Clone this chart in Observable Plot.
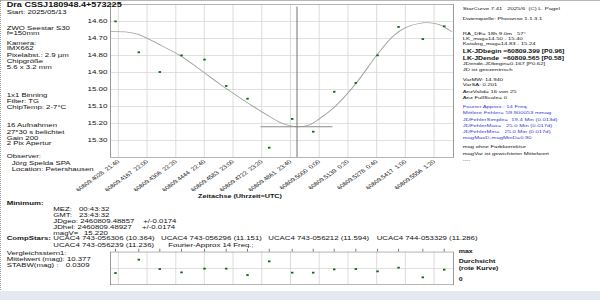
<!DOCTYPE html>
<html><head><meta charset="utf-8">
<script src="https://cdn.jsdelivr.net/npm/d3@7"></script>
<script src="https://cdn.jsdelivr.net/npm/@observablehq/plot@0.6"></script>
<style>
html,body{margin:0;padding:0;background:#fff;width:600px;height:300px;overflow:hidden}
#page{position:absolute;left:0;top:0;width:600px;height:417px;transform:scale(1,0.72);transform-origin:0 0;font-family:"Liberation Sans",Arial,sans-serif;}
.t{position:absolute;white-space:pre;color:#111}
.plot{position:absolute;left:0}
#topline{position:absolute;left:0;top:0;width:600px;height:1px;background:#b8b8b8}
#leftline{position:absolute;left:0;top:0;width:0;height:300px;border-left:1.5px dotted #999}
#taskbar{position:absolute;left:0;top:291px;width:600px;height:9px;background:#e3e9ef}
</style></head><body>
<div id="page"></div>
<div id="topline"></div><div id="leftline"></div><div id="taskbar"></div>
<script>
// ---- data ----
const obsJD  = [60809.40142, 60809.41270, 60809.42286, 60809.43337, 60809.44450, 60809.45500, 60809.46531, 60809.47582,
                60809.48695, 60809.49711, 60809.50728, 60809.51773, 60809.52824, 60809.53840, 60809.55016, 60809.56052];
const obsMag = [14.600, 14.782, 14.898, 14.800, 14.825, 14.980, 15.055, 15.343,
                15.174, 15.249, 15.014, 14.962, 14.800, 14.633, 14.704, 14.629];
const transp = [0.356, 0.767, 0.479, 0.377, 0.491, 0.491, 0.294, 0.715,
                0.368, 0.368, 0.469, 0.479, 0.408, 0.521, 0.224, 0.460];
const fitJD  = [60809.3990, 60809.4063, 60809.4120, 60809.4168, 60809.4240, 60809.4325, 60809.4420, 60809.4520,
                60809.4580, 60809.4680, 60809.4760, 60809.4830, 60809.4890, 60809.4950, 60809.5002, 60809.5073,
                60809.5140, 60809.5200, 60809.5278, 60809.5360, 60809.5418, 60809.5500, 60809.5563, 60809.5602, 60809.5640];
const fitMag = [14.660, 14.662, 14.675, 14.700, 14.745, 14.800, 14.880, 14.970,
                15.020, 15.100, 15.160, 15.205, 15.220, 15.210, 15.172, 15.105,
                15.020, 14.930, 14.800, 14.685, 14.637, 14.609, 14.614, 14.631, 14.660];
const tickJD = [60809.4028, 60809.4167, 60809.4306, 60809.4444, 60809.4583, 60809.4722,
                60809.4861, 60809.5000, 60809.5139, 60809.5278, 60809.5417, 60809.5556];
const tickLabels = ["60809.4028  21:40", "60809.4167  22:00", "60809.4306  22:20", "60809.4444  22:40",
                    "60809.4583  23:00", "60809.4722  23:20", "60809.4861  23:40", "60809.5000  0:00",
                    "60809.5139  0:20", "60809.5278  0:40", "60809.5417  1:00", "60809.5556  1:20"];
const magTicks = [14.6, 14.7, 14.8, 14.9, 15.0, 15.1, 15.2, 15.3];
const minJD = 60809.48927, minMag = 15.220, minErr = 0.0174;
const xDomain = [60809.399, 60809.565];
const yDomain = [14.50, 15.40];

// ---- layout ----
const K = 0.72;
const page = document.getElementById("page");
const font = "Liberation Sans, Arial, sans-serif";
const labelMap = new Map(tickJD.map((d, i) => [d, tickLabels[i]]));
const obs = obsJD.map((d, i) => ({jd: d, mag: obsMag[i], tr: transp[i]}));
const fit = fitJD.map((d, i) => ({jd: d, mag: fitMag[i]}));

const main = Plot.plot({
  width: 600, height: 300,
  marginLeft: 110, marginRight: 147, marginTop: 4 / K, marginBottom: 300 - 157 / K,
  style: {fontFamily: font, fontSize: "8px", color: "#111", background: "transparent", overflow: "visible"},
  x: {domain: xDomain},
  y: {domain: yDomain, reverse: true},
  marks: [
    Plot.gridX(tickJD, {stroke: "#d6d6d6", strokeOpacity: 1}),
    Plot.gridY(magTicks, {stroke: "#d6d6d6", strokeOpacity: 1, strokeWidth: 1.3}),
    Plot.axisY(magTicks, {tickSize: 0, tickPadding: 3, tickFormat: d3.format(".2f"), fontSize: 8, label: null}),
    Plot.axisX(tickJD, {tickSize: 0, tickPadding: 5, tickRotate: -45, tickFormat: d => labelMap.get(d), fontSize: 7, label: null}),
    Plot.line(fit, {x: "jd", y: "mag", curve: "catmull-rom", stroke: "#a2a2a2", strokeWidth: 1.1}),
    Plot.ruleX([minJD], {y1: 14.515, y2: yDomain[1], stroke: "#5a5a5a", strokeWidth: 1}),
    Plot.ruleY([minMag], {x1: minJD - minErr, x2: minJD + minErr, stroke: "#8c8c8c", strokeWidth: 1.5}),
    Plot.dot(obs, {x: "jd", y: "mag", symbol: "square", r: 1.4, fill: "#0b6a12", stroke: "none"}),
    Plot.frame({stroke: "#999"})
  ]
});
main.classList.add("plot");
main.style.top = "0px";
page.appendChild(main);

const sTop = 340, sH = 70;
const small = Plot.plot({
  width: 600, height: sH,
  marginLeft: 110, marginRight: 147, marginTop: 251.7 / K - sTop, marginBottom: sTop + sH - 284.3 / K,
  style: {fontFamily: font, background: "transparent", overflow: "visible"},
  x: {domain: xDomain, axis: null},
  y: {domain: [0, 1], axis: null},
  marks: [
    Plot.gridX(tickJD, {stroke: "#d6d6d6", strokeOpacity: 1}),
    Plot.gridY([0.5], {stroke: "#d6d6d6", strokeOpacity: 1, strokeWidth: 1.3}),
    Plot.ruleX(obs, {x: "jd", y1: 1, y2: 1.09, stroke: "#666"}),
    Plot.dot(obs, {x: "jd", y: "tr", symbol: "square", r: 1.4, fill: "#0b6a12", stroke: "none"}),
    Plot.frame({stroke: "#999"})
  ]
});
small.classList.add("plot");
small.style.top = sTop + "px";
page.appendChild(small);

// ---- texts ----
function addText(txt, x, y, size, bold, color) {
  const d = document.createElement("div");
  d.className = "t";
  const L = size * 1.2;
  d.style.left = x + "px";
  d.style.top = (y / K - L / 2 - 0.05 * size) + "px";
  d.style.fontSize = size + "px";
  d.style.lineHeight = L + "px";
  if (bold) d.style.fontWeight = "bold";
  if (color) d.style.color = color;
  d.textContent = txt;
  page.appendChild(d);
}
const S = 7.8;
const left = [
  ["Start: 2025/05/13", 6.7, 12.3], ["ZWO Seestar S30", 6.7, 28.3], ["f=150mm", 6.7, 33.7],
  ["Kamera:", 6.7, 43.3], ["IMX662", 6.7, 49.3], ["Pixelabst.: 2.9 µm", 6.7, 55.3],
  ["Chipgröße", 6.7, 61.3], ["5.6 x 3.2 mm", 6.7, 68], ["1x1 Binning", 6.7, 95.7],
  ["Filter: TG", 6.7, 101.5], ["ChipTemp: 2-7°C", 6.7, 107.3], ["16 Aufnahmen", 6.7, 126],
  ["27*30 s belichtet", 6.7, 132.3], ["Gain 200", 6.7, 138.3], ["2 Pix Apertur", 6.7, 144.3],
  ["Observer:", 6.7, 157.3], ["Jörg Spelda SPA", 11.7, 163.3], ["Location: Petershausen", 11.7, 170],
  ["MEZ:", 53.3, 209.3], ["00:43:32", 79, 209.3], ["GMT:", 53.3, 215.3], ["23:43:32", 79, 215.3],
  ["JDgeo: 2460809.48857", 53.3, 221.7], ["+/-0.0174", 143.3, 221.7],
  ["JDhel: 2460809.48927", 53.3, 227.7], ["+/-0.0174", 142, 227.7],
  ["magV=", 53.3, 233.3], ["15.220", 84, 233.3],
  ["UCAC4 743-056306 (10.364)", 53.3, 239.3], ["UCAC4 743-056296 (11.151)", 161, 239.3],
  ["UCAC4 743-056212 (11.594)", 268.3, 239.3], ["UCAC4 744-053329 (11.286)", 376.7, 239.3],
  ["UCAC4 743-056239 (11.236)", 53.3, 245.3], ["Fourier-Approx 14 Freq.;", 168.3, 245.3],
  ["Vergleichsstern1:", 6.7, 253.3], ["Mittelwert (mag): 10.377", 6.7, 259.3],
  ["STABW(mag)", 6.7, 266], [":", 56.5, 266], ["0.0309", 65.7, 266]
];
addText("Dra CSSJ180948.4+573225", 6.7, 5.7, 9.1, true);
left.forEach(([t, x, y]) => addText(t, x, y, S, false));
addText("Minimum:", 6.7, 204, S, true);
addText("CompStars:", 6.7, 239.3, S, true);
addText("Zeitachse (Uhrzeit=UTC)", 198, 197.3, 7.25, true);
[["max", 252], ["Durchsicht", 261.7], ["(rote Kurve)", 268.7], ["0", 280]]
  .forEach(([t, y]) => addText(t, 458.7, y, 7, true));

const R = 5.9, RX = 462.7, BLUE = "#3b3bcf";
const right = [
  ["StarCurve 7.41   2025/6  (C) L. Pagel", 9], ["Datenquelle: Phoranso 1.1.3.1", 19],
  ["RA_DE= 18h 9.0m   57°", 33.7], ["LK_mag=14.50 - 15.40", 39.7], ["Katalog_mag=14.83 - 15.24", 44.5],
  ["JDende-JDbegin=0.167 [P0.62]", 64.3], ["JD ist geozentrisch", 70],
  ["VarMW: 14.940", 80], ["VarSA: 0.201", 85.7], ["AnzValid= 16 von 25", 92], ["Anz FullScale= 0", 98],
  ["mag ohne Farbkorrektur", 147.7], ["magVar ist gewichteter Mittelwert", 153.7], ["----", 160]
];
right.forEach(([t, y]) => addText(t, RX, y, R, false));
addText("LK-JDbegin =60809.399 [P0.96]", RX, 52.3, 6.9, true);
addText("LK-JDende  =60809.565 [P0.58]", RX, 58.7, 6.9, true);
[["Fourier Approx.: 14 Freq.", 107.3], ["Mittlere Fehler= 59.900053 mmag", 114],
 ["JDFehlerSimple=  19.4 Min (0.013d)", 120], ["JDFehlerMax=   25.0 Min (0.017d)", 126.3],
 ["JDFehlerMin=   25.0 Min (0.017d)", 132.3], ["magMaxD-magMinD=0.90", 138.3]]
  .forEach(([t, y]) => addText(t, RX, y, R, false, BLUE));
</script>
</body></html>
